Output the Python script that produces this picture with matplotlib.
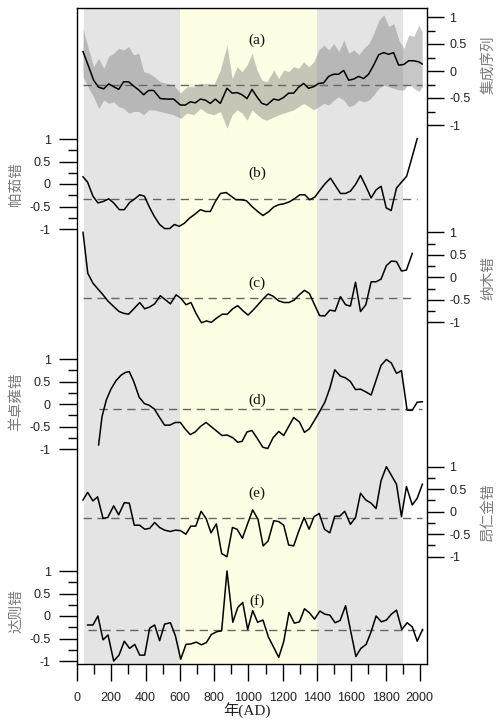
import numpy as np
import matplotlib
matplotlib.use("Agg")
import matplotlib.pyplot as plt
from matplotlib.ticker import FixedLocator

# ---------------- data ----------------
# (a) composite series
a_year = [35, 68, 97, 126, 156, 185, 214, 243, 272, 301, 331, 360, 389, 418, 447, 486, 525, 564,
          603, 632, 661, 690, 720, 749, 778, 807, 836, 875, 905, 934, 963, 992, 1021, 1050, 1079,
          1108, 1147, 1176, 1205, 1235, 1264, 1293, 1322, 1351, 1381, 1410, 1439, 1468, 1497, 1526,
          1556, 1585, 1614, 1643, 1672, 1701, 1731, 1760, 1789, 1818, 1847, 1876, 1906, 1935, 1964,
          1993, 2014]
a_val = [0.36, 0.08, -0.17, -0.30, -0.33, -0.24, -0.29, -0.34, -0.20, -0.20, -0.28, -0.35, -0.44,
         -0.36, -0.36, -0.51, -0.52, -0.52, -0.63, -0.63, -0.57, -0.59, -0.52, -0.54, -0.60, -0.52,
         -0.60, -0.32, -0.41, -0.40, -0.44, -0.51, -0.34, -0.48, -0.60, -0.63, -0.52, -0.54, -0.49,
         -0.41, -0.41, -0.30, -0.23, -0.32, -0.29, -0.23, -0.22, -0.10, -0.06, -0.06, 0.01, -0.17,
         -0.15, -0.10, -0.14, -0.06, 0.11, 0.30, 0.34, 0.31, 0.34, 0.11, 0.12, 0.19, 0.19, 0.17, 0.13]
band_year = [35, 68, 97, 126, 156, 185, 214, 243, 272, 301, 331, 360, 389, 418, 447, 486, 525, 564,
             603, 642, 681, 720, 759, 798, 836, 875, 905, 934, 963, 992, 1021, 1050, 1079, 1108,
             1148, 1177, 1206, 1235, 1264, 1293, 1323, 1352, 1381, 1410, 1440, 1469, 1498, 1527,
             1557, 1586, 1615, 1644, 1673, 1703, 1732, 1761, 1790, 1819, 1848, 1878, 1907, 1936,
             1965, 1994, 2014]
band_upper = [0.79, 0.39, 0.08, 0.23, 0.05, 0.27, 0.33, 0.42, 0.39, 0.45, 0.30, 0.33, -0.01, -0.04,
              -0.10, -0.20, -0.23, -0.26, -0.41, -0.29, -0.29, -0.23, -0.23, -0.26, 0.02, 0.48,
              -0.14, 0.08, -0.01, 0.11, 0.33, 0.02, -0.17, -0.20, 0.02, -0.14, 0.02, -0.01, 0.08,
              0.05, 0.17, 0.08, 0.17, 0.39, 0.48, 0.39, 0.51, 0.36, 0.57, 0.33, 0.39, 0.30, 0.42,
              0.51, 0.70, 0.94, 1.04, 0.82, 0.88, 0.57, 0.42, 0.67, 0.64, 0.85, 0.73]
band_lower = [-0.10, -0.32, -0.48, -0.69, -0.54, -0.60, -0.57, -0.66, -0.69, -0.78, -0.75, -0.75,
              -0.81, -0.72, -0.72, -0.75, -0.78, -0.81, -0.88, -0.78, -0.81, -0.69, -0.78, -0.81,
              -0.75, -1.06, -0.81, -0.72, -0.78, -0.91, -0.72, -0.81, -0.88, -0.91, -0.85, -0.81,
              -0.78, -0.75, -0.72, -0.66, -0.60, -0.66, -0.72, -0.66, -0.60, -0.63, -0.54, -0.48,
              -0.54, -0.66, -0.63, -0.54, -0.57, -0.54, -0.44, -0.32, -0.26, -0.29, -0.32, -0.35,
              -0.35, -0.23, -0.32, -0.38, -0.29]

# (b) 帕茹错
b_year = [35, 62, 93, 122, 152, 185, 214, 247, 276, 307, 337, 366, 393, 422, 451, 482, 511, 541,
          568, 597, 627, 656, 685, 720, 749, 778, 807, 837, 870, 899, 928, 957, 988, 1021, 1054,
          1085, 1117, 1148, 1177, 1206, 1237, 1268, 1300, 1329, 1358, 1388, 1417, 1448, 1479, 1508,
          1537, 1567, 1595, 1625, 1654, 1685, 1716, 1745, 1774, 1804, 1833, 1864, 1893, 1923, 1956,
          1985]
b_val = [0.16, 0.04, -0.27, -0.42, -0.39, -0.33, -0.42, -0.57, -0.57, -0.41, -0.33, -0.24, -0.27,
         -0.51, -0.72, -0.90, -0.99, -0.99, -0.90, -0.94, -0.87, -0.76, -0.68, -0.57, -0.61, -0.61,
         -0.39, -0.21, -0.19, -0.27, -0.35, -0.35, -0.37, -0.50, -0.61, -0.70, -0.62, -0.51, -0.46,
         -0.44, -0.40, -0.33, -0.24, -0.24, -0.35, -0.29, -0.14, 0.01, 0.13, -0.04, -0.21, -0.21,
         -0.16, -0.01, 0.19, -0.05, -0.31, -0.13, -0.05, -0.53, -0.59, -0.09, 0.04, 0.17, 0.61, 1.01]

# (c) 纳木错
c_year = [35, 63, 93, 122, 152, 181, 214, 245, 272, 301, 334, 366, 395, 424, 453, 486, 516, 545,
          578, 607, 636, 665, 694, 726, 755, 784, 817, 848, 877, 908, 938, 967, 998, 1027, 1056,
          1086, 1115, 1144, 1175, 1206, 1237, 1266, 1296, 1327, 1356, 1386, 1415, 1446, 1475, 1506,
          1537, 1567, 1595, 1625, 1654, 1685, 1716, 1745, 1774, 1805, 1834, 1864, 1893, 1922, 1956]
c_val = [1.00, 0.09, -0.13, -0.26, -0.39, -0.53, -0.65, -0.76, -0.80, -0.82, -0.69, -0.56, -0.70,
         -0.66, -0.59, -0.41, -0.50, -0.59, -0.39, -0.47, -0.61, -0.56, -0.80, -1.01, -0.97, -1.00,
         -0.90, -0.82, -0.82, -0.70, -0.63, -0.74, -0.84, -0.73, -0.61, -0.48, -0.37, -0.42, -0.52,
         -0.56, -0.56, -0.51, -0.39, -0.29, -0.36, -0.61, -0.85, -0.86, -0.73, -0.75, -0.43, -0.61,
         -0.64, -0.11, -0.76, -0.61, -0.10, -0.10, -0.04, 0.26, 0.36, 0.35, 0.14, 0.16, 0.53]

# (d) 羊卓雍错
d_year = [126, 146, 171, 198, 228, 257, 282, 305, 331, 363, 393, 422, 451, 482, 511, 541, 574, 603,
          632, 661, 690, 720, 753, 782, 817, 846, 876, 909, 938, 963, 992, 1021, 1051, 1084, 1113,
          1144, 1177, 1206, 1235, 1264, 1298, 1327, 1356, 1386, 1417, 1446, 1475, 1504, 1537, 1567,
          1595, 1625, 1654, 1685, 1716, 1745, 1774, 1805, 1834, 1864, 1893, 1926, 1956, 1985, 2015]
d_val = [-0.91, -0.28, 0.09, 0.33, 0.52, 0.64, 0.70, 0.72, 0.50, 0.15, 0.01, -0.03, -0.11, -0.30,
         -0.47, -0.47, -0.41, -0.41, -0.56, -0.68, -0.62, -0.50, -0.41, -0.50, -0.61, -0.70, -0.69,
         -0.75, -0.85, -0.83, -0.62, -0.59, -0.76, -0.96, -0.99, -0.75, -0.61, -0.70, -0.50, -0.30,
         -0.40, -0.63, -0.55, -0.36, -0.16, 0.04, 0.35, 0.76, 0.62, 0.58, 0.50, 0.32, 0.33, 0.27,
         0.20, 0.53, 0.86, 0.99, 0.91, 0.68, 0.74, -0.14, -0.14, 0.04, 0.05]

# (e) 昂仁金错
e_year = [35, 62, 93, 120, 152, 179, 214, 243, 276, 305, 334, 366, 395, 424, 453, 482, 511, 545,
          574, 603, 635, 664, 693, 724, 753, 782, 813, 844, 875, 907, 934, 965, 996, 1025, 1056,
          1086, 1115, 1148, 1177, 1206, 1235, 1264, 1293, 1325, 1354, 1383, 1413, 1444, 1475, 1504,
          1533, 1562, 1595, 1625, 1654, 1685, 1716, 1745, 1774, 1805, 1834, 1864, 1893, 1922, 1956,
          1985, 2015]
e_val = [0.26, 0.43, 0.24, 0.33, -0.15, -0.13, 0.13, -0.07, 0.20, 0.19, -0.30, -0.30, -0.39, -0.37,
         -0.24, -0.35, -0.41, -0.44, -0.41, -0.42, -0.50, -0.32, -0.32, 0.01, -0.15, -0.47, -0.27,
         -0.93, -1.00, -0.35, -0.39, -0.59, -0.26, 0.04, -0.17, -0.76, -0.65, -0.20, -0.22, -0.30,
         -0.74, -0.76, -0.44, -0.13, -0.39, -0.11, -0.04, -0.39, -0.47, -0.10, -0.10, 0.01, -0.28,
         -0.13, 0.41, 0.26, 0.19, 0.07, 0.69, 1.00, 0.81, 0.61, -0.11, 0.56, 0.15, 0.30, 0.61]

# (f) 达则错
f_year = [62, 93, 122, 152, 181, 214, 245, 276, 307, 337, 366, 395, 424, 453, 482, 511, 545, 574,
          605, 636, 665, 696, 726, 755, 784, 815, 844, 875, 909, 938, 967, 996, 1025, 1054, 1085,
          1117, 1148, 1177, 1206, 1237, 1268, 1298, 1327, 1356, 1386, 1417, 1446, 1475, 1506, 1535,
          1567, 1595, 1627, 1656, 1687, 1716, 1745, 1776, 1805, 1834, 1864, 1895, 1926, 1956, 1985,
          2016]
f_val = [-0.20, -0.20, 0.00, -0.53, -0.42, -1.00, -0.87, -0.56, -0.72, -0.63, -0.87, -0.87, -0.27,
         -0.20, -0.55, -0.18, -0.15, -0.44, -0.96, -0.63, -0.62, -0.58, -0.64, -0.59, -0.41, -0.35,
         -0.33, 1.00, -0.14, 0.19, 0.30, -0.30, 0.12, -0.14, -0.09, -0.47, -0.70, -0.92, -0.57,
         0.08, -0.16, -0.13, 0.16, 0.07, -0.07, 0.11, 0.04, 0.02, -0.15, -0.10, 0.23, -0.30, -0.90,
         -0.72, -0.63, -0.35, 0.00, -0.13, -0.09, 0.04, 0.13, -0.30, -0.15, -0.24, -0.56, -0.30]

# reference (dashed) levels of each record
ref_levels = [-0.25, -0.33, -0.47, -0.12, -0.13, -0.30]
panel_tags = ["(a)", "(b)", "(c)", "(d)", "(e)", "(f)"]
panel_names = ["集成序列", "帕茹错", "纳木错", "羊卓雍错", "昂仁金错", "达则错"]
y_ticks = [-1, -0.5, 0, 0.5, 1]
y_tick_labels = ["-1", "-0.5", "0", "0.5", "1"]
x_ticks = [0, 200, 400, 600, 800, 1000, 1200, 1400, 1600, 1800, 2000]
x_label = "年(AD)"
periods = [(40, 600, "grey"), (600, 1400, "yellow"), (1400, 1900, "grey")]

series_years = [a_year, b_year, c_year, d_year, e_year, f_year]
series_vals = [a_val, b_val, c_val, d_val, e_val, f_val]

# ---------------- layout (pixels) ----------------
W, H = 497, 720
L, R, T, B = 77, 427, 8, 664
zero_px = [71, 184, 277.3, 404, 511.7, 616]
unit_px = [54, 45, 45, 45, 45, 45]
sides = ["right", "left", "right", "left", "right", "left"]
tag_px_y = [40, 173, 283, 400, 493, 601]
name_px_y = [65, 184, 278, 402, 512, 611]

fig = plt.figure(figsize=(W / 100, H / 100), dpi=100)
rect = [L / W, 1 - B / H, (R - L) / W, (B - T) / H]

ax = fig.add_axes(rect)
ax.set_xlim(0, 2042)
ax.set_ylim(0, 1)
ax.set_yticks([])
colors = {"grey": "#e4e4e4", "yellow": "#fefee4"}
for x0, x1, c in periods:
    ax.axvspan(x0, x1, color=colors[c], lw=0, zorder=0)
for s in ax.spines.values():
    s.set_linewidth(1.0)
ax.xaxis.set_major_locator(FixedLocator(x_ticks))
ax.xaxis.set_minor_locator(FixedLocator([100 + 200 * i for i in range(10)]))
ax.set_xticklabels([str(v) for v in x_ticks], fontsize=9, family="Liberation Sans", color="#222222")
ax.tick_params(axis="x", which="major", direction="out", length=12, width=1.0, pad=8)
ax.tick_params(axis="x", which="minor", direction="out", length=7, width=1.0)
fig.text((L + R) / 2 / W - 0.01, 1 - 711 / H, x_label, ha="center", va="center", fontsize=11,
         family=["Liberation Serif", "Noto Sans CJK SC"], color="#222222")

for i in range(6):
    y0, s = zero_px[i], unit_px[i]
    lo, hi = (y0 - B) / s, (y0 - T) / s
    p = fig.add_axes(rect)
    p.patch.set_alpha(0)
    p.set_xlim(0, 2042)
    p.set_ylim(lo, hi)
    for sp in p.spines.values():
        sp.set_visible(False)
    p.set_xticks([])
    yrs, vals = series_years[i], series_vals[i]
    if i == 0:
        p.fill_between(band_year, band_lower, band_upper, color="#7a7a7a", alpha=0.42, lw=0)
    p.plot([yrs[0], yrs[-1]], [ref_levels[i], ref_levels[i]], color="#666666", lw=1.0,
           dashes=(6, 4))
    p.plot(yrs, vals, color="black", lw=1.1)
    side = sides[i]
    p.yaxis.set_ticks_position(side)
    p.yaxis.set_label_position(side)
    p.yaxis.set_major_locator(FixedLocator(y_ticks))
    p.yaxis.set_minor_locator(FixedLocator([-0.75, -0.25, 0.25, 0.75]))
    p.set_yticklabels(y_tick_labels, fontsize=9, family="Liberation Sans", color="#222222")
    if side == "left":
        p.tick_params(axis="y", which="major", direction="out", length=13, width=1.0, pad=6)
        p.tick_params(axis="y", which="minor", direction="out", length=6.5, width=1.0)
        nx = 16
    else:
        p.tick_params(axis="y", which="major", direction="out", length=12, width=1.0, pad=4)
        p.tick_params(axis="y", which="minor", direction="out", length=6, width=1.0)
        nx = 488
    p.text(1050, (y0 - tag_px_y[i]) / s, panel_tags[i], ha="center", va="center", fontsize=11,
           family="Liberation Serif", color="#111111")
    fig.text(nx / W, 1 - name_px_y[i] / H, panel_names[i], rotation=90, ha="center", va="center",
             fontsize=10.5, family=["Noto Sans CJK SC", "DejaVu Sans"], color="#7a7a7a")

fig.savefig("out.png", dpi=100)
